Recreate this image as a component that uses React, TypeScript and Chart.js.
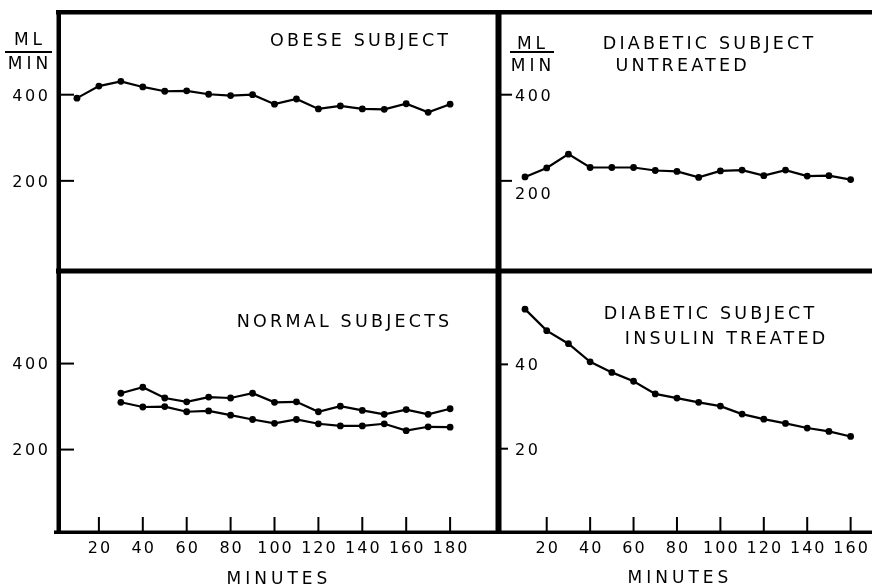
import React, { useEffect, useRef } from "react";
import { Chart, registerables } from "chart.js";

Chart.register(...registerables);

// ---------- data ----------
const obeseMinutes = [10, 20, 30, 40, 50, 60, 70, 80, 90, 100, 110, 120, 130, 140, 150, 160, 170, 180];
const obeseValues = [392, 420, 431, 418, 408, 409, 401, 398, 400, 378, 390, 367, 374, 367, 366, 379, 359, 378];

const untreatedMinutes = [10, 20, 30, 40, 50, 60, 70, 80, 90, 100, 110, 120, 130, 140, 150, 160];
const untreatedValues = [209, 230, 262, 231, 231, 231, 224, 222, 208, 223, 225, 212, 225, 211, 212, 203];

const normalMinutes = [30, 40, 50, 60, 70, 80, 90, 100, 110, 120, 130, 140, 150, 160, 170, 180];
const normalUpperValues = [331, 345, 320, 311, 322, 320, 331, 310, 311, 288, 301, 291, 282, 293, 282, 295];
const normalLowerValues = [310, 299, 300, 288, 290, 280, 270, 261, 270, 260, 255, 255, 260, 244, 253, 252];

const insulinMinutes = [10, 20, 30, 40, 50, 60, 70, 80, 90, 100, 110, 120, 130, 140, 150, 160];
const insulinValues = [53.1, 48.0, 44.9, 40.6, 38.1, 36.0, 33.0, 32.0, 31.0, 30.1, 28.2, 27.0, 26.0, 24.9, 24.1, 22.9];

const leftXTicks = [20, 40, 60, 80, 100, 120, 140, 160, 180];
const rightXTicks = [20, 40, 60, 80, 100, 120, 140, 160];
const flowTicks = [400, 200];
const insulinTicks = [40, 20];

const titleObese = ["OBESE SUBJECT"];
const titleUntreated = ["DIABETIC SUBJECT", "UNTREATED"];
const titleNormal = ["NORMAL SUBJECTS"];
const titleInsulin = ["DIABETIC SUBJECT", "INSULIN TREATED"];
const unitTop = "ML";
const unitBottom = "MIN";
const xAxisTitle = "MINUTES";

// ---------- drawing helpers ----------
const FONT = '"DejaVu Sans", sans-serif';

type Align = "left" | "center" | "right";

function drawText(
  ctx: CanvasRenderingContext2D,
  text: string,
  x: number,
  cy: number,
  size: number,
  spacing: number,
  align: Align
) {
  ctx.save();
  ctx.font = `${size}px ${FONT}`;
  (ctx as any).letterSpacing = "0px";
  const base = ctx.measureText(text).width;
  const w = base + spacing * (text.length - 1);
  let start = x;
  if (align === "center") start = x - w / 2;
  else if (align === "right") start = x - w;
  (ctx as any).letterSpacing = `${spacing}px`;
  ctx.textAlign = "left";
  ctx.textBaseline = "alphabetic";
  ctx.fillStyle = "#000";
  ctx.fillText(text, start, cy + size * 0.365);
  ctx.restore();
}

// frame rectangles in page coordinates [x, y, w, h]
const frameRects: [number, number, number, number][] = [
  [56, 10, 816, 4.5], // top
  [56.5, 10, 4.5, 524], // left
  [495.5, 10, 6, 523], // middle vertical
  [56, 268.5, 816, 5], // middle horizontal
  [54, 530.5, 818, 3.5], // bottom
];

interface TextItem {
  text: string;
  x: number;
  y: number;
  size: number;
  spacing: number;
  align: Align;
}

interface PanelSpec {
  ox: number;
  oy: number;
  w: number;
  h: number;
  area: { left: number; right: number; top: number; bottom: number };
  xMin: number;
  xMax: number;
  yMin: number;
  yMax: number;
  series: { minutes: number[]; values: number[] }[];
  yTicks: number[];
  yTickSpan: [number, number];
  yLabelX: number;
  yLabelAlign: Align;
  yLabelShift: number[];
  xTicks?: number[];
  texts: TextItem[];
  fraction?: { cx: number; mlY: number; barY: number; minY: number; barX1: number; barX2: number };
}

function titleItems(lines: string[], centers: [number, number][]): TextItem[] {
  return lines.map((t, i) => ({ text: t, x: centers[i][0], y: centers[i][1], size: 17.5, spacing: 3.2, align: "center" as Align }));
}

const panels: PanelSpec[] = [
  {
    ox: 0,
    oy: 0,
    w: 498,
    h: 271,
    area: { left: 55, right: 495, top: 12, bottom: 270 },
    xMin: 0,
    xMax: 200,
    yMin: 0,
    yMax: 592,
    series: [{ minutes: obeseMinutes, values: obeseValues }],
    yTicks: flowTicks,
    yTickSpan: [61, 74],
    yLabelX: 48,
    yLabelAlign: "right",
    yLabelShift: [0, 0],
    texts: titleItems(titleObese, [[359, 40]]),
    fraction: { cx: 28, mlY: 39, barY: 52, minY: 63, barX1: 5, barX2: 52 },
  },
  {
    ox: 498,
    oy: 0,
    w: 374,
    h: 271,
    area: { left: 503.3, right: 503.3 + 168 * 2.186, top: 12, bottom: 270 },
    xMin: 0,
    xMax: 168,
    yMin: 0,
    yMax: 592,
    series: [{ minutes: untreatedMinutes, values: untreatedValues }],
    yTicks: flowTicks,
    yTickSpan: [487, 512],
    yLabelX: 515,
    yLabelAlign: "left",
    yLabelShift: [0, 12],
    texts: titleItems(titleUntreated, [
      [708, 43],
      [681, 65],
    ]),
    fraction: { cx: 531, mlY: 43, barY: 52, minY: 65, barX1: 510, barX2: 554 },
  },
  {
    ox: 0,
    oy: 271,
    w: 498,
    h: 316,
    area: { left: 55, right: 495, top: 271, bottom: 533 },
    xMin: 0,
    xMax: 200,
    yMin: 6,
    yMax: 606,
    series: [
      { minutes: normalMinutes, values: normalUpperValues },
      { minutes: normalMinutes, values: normalLowerValues },
    ],
    yTicks: flowTicks,
    yTickSpan: [61, 74],
    yLabelX: 48,
    yLabelAlign: "right",
    yLabelShift: [0, 0],
    xTicks: leftXTicks,
    texts: [
      ...titleItems(titleNormal, [[343, 321]]),
      { text: xAxisTitle, x: 277, y: 578, size: 17, spacing: 4, align: "center" },
    ],
  },
  {
    ox: 498,
    oy: 271,
    w: 374,
    h: 316,
    area: { left: 503.3, right: 503.3 + 168 * 2.186, top: 271, bottom: 533 },
    xMin: 0,
    xMax: 168,
    yMin: 0,
    yMax: 61.2,
    series: [{ minutes: insulinMinutes, values: insulinValues }],
    yTicks: insulinTicks,
    yTickSpan: [487, 508],
    yLabelX: 515,
    yLabelAlign: "left",
    yLabelShift: [0, 0],
    xTicks: rightXTicks,
    texts: [
      ...titleItems(titleInsulin, [
        [709, 313],
        [725, 338],
      ]),
      { text: xAxisTitle, x: 678, y: 577, size: 17, spacing: 4, align: "center" },
    ],
  },
];

function PanelChart({ spec }: { spec: PanelSpec }) {
  const ref = useRef<HTMLCanvasElement | null>(null);

  useEffect(() => {
    const canvas = ref.current;
    if (!canvas) return;
    const { ox, oy, w, h, area } = spec;

    const decor = {
      id: "decor",
      afterDraw(chart: any) {
        const ctx: CanvasRenderingContext2D = chart.ctx;
        const xs = chart.scales.x;
        const ys = chart.scales.y;
        ctx.save();
        ctx.translate(-ox, -oy);
        ctx.fillStyle = "#000";
        // frame
        frameRects.forEach(([x, y, rw, rh]) => ctx.fillRect(x, y, rw, rh));
        // y ticks
        spec.yTicks.forEach((v, i) => {
          const py = ys.getPixelForValue(v) + oy;
          ctx.fillRect(spec.yTickSpan[0], py - 1, spec.yTickSpan[1] - spec.yTickSpan[0], 2);
          drawText(ctx, String(v), spec.yLabelX, py + spec.yLabelShift[i], 16, 2.6, spec.yLabelAlign);
        });
        // x ticks
        if (spec.xTicks) {
          spec.xTicks.forEach((v) => {
            const px = xs.getPixelForValue(v) + ox;
            ctx.fillRect(px - 1, 517, 2, 14);
            drawText(ctx, String(v), px, 547, 16, 2, "center");
          });
        }
        // texts
        spec.texts.forEach((t) => drawText(ctx, t.text, t.x, t.y, t.size, t.spacing, t.align));
        // unit fraction
        if (spec.fraction) {
          const f = spec.fraction;
          drawText(ctx, unitTop, f.cx, f.mlY, 17, 4, "center");
          ctx.fillRect(f.barX1, f.barY - 1, f.barX2 - f.barX1, 2);
          drawText(ctx, unitBottom, f.cx, f.minY, 17, 4, "center");
        }
        ctx.restore();
      },
    };

    const chart = new Chart(canvas, {
      type: "line",
      data: {
        datasets: spec.series.map((s) => ({
          data: s.minutes.map((m, i) => ({ x: m, y: s.values[i] })),
          borderColor: "#000",
          borderWidth: 2.2,
          pointRadius: 3.4,
          pointBackgroundColor: "#000",
          pointBorderColor: "#000",
          pointBorderWidth: 0,
          tension: 0,
          fill: false,
        })),
      },
      options: {
        responsive: false,
        animation: false,
        events: [],
        layout: {
          padding: {
            left: area.left - ox,
            right: ox + w - area.right,
            top: area.top - oy,
            bottom: oy + h - area.bottom,
          },
        },
        plugins: { legend: { display: false }, tooltip: { enabled: false }, title: { display: false } },
        scales: {
          x: { type: "linear", display: false, min: spec.xMin, max: spec.xMax },
          y: { type: "linear", display: false, min: spec.yMin, max: spec.yMax },
        },
      },
      plugins: [decor],
    } as any);

    return () => chart.destroy();
  }, [spec]);

  return (
    <canvas
      ref={ref}
      width={spec.w}
      height={spec.h}
      style={{ position: "absolute", left: spec.ox, top: spec.oy, width: spec.w, height: spec.h, display: "block" }}
    />
  );
}

export default function App() {
  return (
    <div style={{ position: "absolute", left: 0, top: 0, width: 872, height: 587, background: "#fff", overflow: "hidden" }}>
      {panels.map((p, i) => (
        <PanelChart key={i} spec={p} />
      ))}
    </div>
  );
}
